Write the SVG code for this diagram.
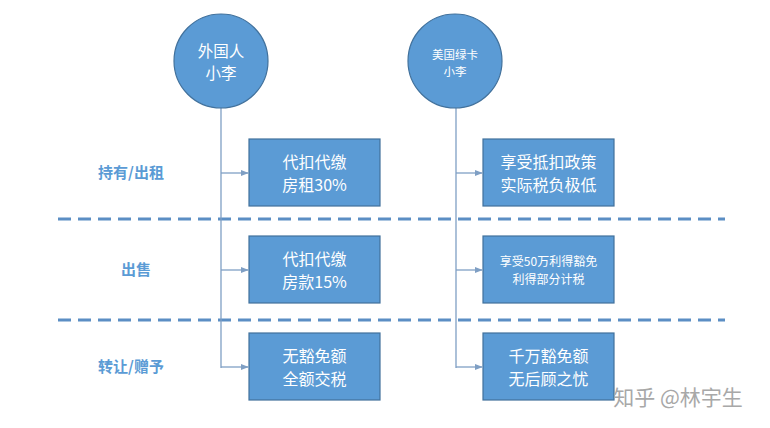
<svg xmlns="http://www.w3.org/2000/svg" width="770" height="428" viewBox="0 0 770 428">
<style>
.node{fill:#5b9bd5;stroke:#41719c;stroke-width:1.2}
.t{font-family:"Noto Sans CJK SC","Liberation Sans",sans-serif;fill:#fff;text-anchor:middle}
.lab{font-family:"Noto Sans CJK SC",sans-serif;fill:#5b9bd5;font-weight:bold;font-size:15px;text-anchor:middle}
.ln{stroke:#7f9fc4;stroke-width:1.3;fill:none}
.dash{stroke:#5b8ec4;stroke-width:3;stroke-dasharray:13 7;fill:none}
</style>
<defs>
<marker id="ah" viewBox="0 0 10 10" refX="9" refY="5" markerWidth="6" markerHeight="6" orient="auto"><path d="M0,1 L10,5 L0,9 z" fill="#7f9fc4"/></marker>
</defs>
<rect width="770" height="428" fill="#fff"/>
<g id="dividers">
<line class="dash" x1="58" y1="219" x2="725" y2="219"/>
<line class="dash" x1="58" y1="320" x2="725" y2="320"/>
</g>
<g id="labels">
<text class="lab" x="131" y="178">持有/出租</text>
<text class="lab" x="136" y="275">出售</text>
<text class="lab" x="131" y="372">转让/赠予</text>
</g>
<g id="connectors">
<line class="ln" x1="221" y1="108" x2="221" y2="368"/>
<line class="ln" x1="221" y1="173" x2="248" y2="173" marker-end="url(#ah)"/>
<line class="ln" x1="221" y1="270" x2="248" y2="270" marker-end="url(#ah)"/>
<line class="ln" x1="221" y1="367" x2="248" y2="367" marker-end="url(#ah)"/>
<line class="ln" x1="456" y1="108" x2="456" y2="368"/>
<line class="ln" x1="456" y1="173" x2="482" y2="173" marker-end="url(#ah)"/>
<line class="ln" x1="456" y1="270" x2="482" y2="270" marker-end="url(#ah)"/>
<line class="ln" x1="456" y1="367" x2="482" y2="367" marker-end="url(#ah)"/>
</g>
<g id="c1"><circle class="node" cx="221" cy="61" r="47"/>
<text class="t" font-size="15.5" x="221" y="57">外国人</text><text class="t" font-size="15.5" x="221" y="79">小李</text></g>
<g id="c2"><circle class="node" cx="455" cy="61" r="47"/>
<text class="t" font-size="11.5" x="455" y="58.5">美国绿卡</text><text class="t" font-size="11.5" x="455" y="75.5">小李</text></g>
<g id="b1"><rect class="node" x="249" y="139" width="131" height="67"/>
<text class="t" font-size="16" x="314.5" y="168">代扣代缴</text><text class="t" font-size="16" x="314.5" y="191">房租30%</text></g>
<g id="b2"><rect class="node" x="249" y="236" width="131" height="67"/>
<text class="t" font-size="16" x="314.5" y="265">代扣代缴</text><text class="t" font-size="16" x="314.5" y="288">房款15%</text></g>
<g id="b3"><rect class="node" x="249" y="333" width="131" height="67"/>
<text class="t" font-size="16" x="314.5" y="362">无豁免额</text><text class="t" font-size="16" x="314.5" y="385">全额交税</text></g>
<g id="b4"><rect class="node" x="483" y="139" width="131" height="67"/>
<text class="t" font-size="16" x="548.5" y="168">享受抵扣政策</text><text class="t" font-size="16" x="548.5" y="191">实际税负极低</text></g>
<g id="b5"><rect class="node" x="483" y="236" width="131" height="67"/>
<text class="t" font-size="12" x="548.5" y="266">享受50万利得豁免</text><text class="t" font-size="12" x="548.5" y="283.5">利得部分计税</text></g>
<g id="b6"><rect class="node" x="483" y="333" width="131" height="67"/>
<text class="t" font-size="16" x="548.5" y="362">千万豁免额</text><text class="t" font-size="16" x="548.5" y="385">无后顾之忧</text></g>
<g id="wm"><text x="678" y="405" font-family="Noto Sans CJK SC,sans-serif" font-size="21" fill="#a8a8a8" text-anchor="middle">知乎 @林宇生</text></g>
</svg>
